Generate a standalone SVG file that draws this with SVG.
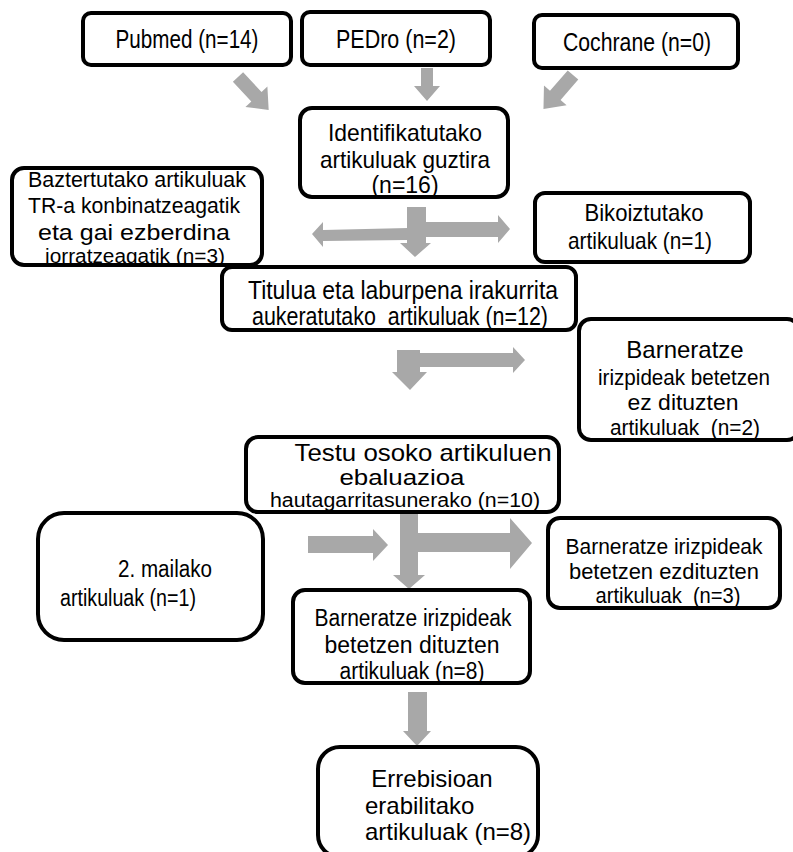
<svg xmlns="http://www.w3.org/2000/svg" width="793" height="852" viewBox="0 0 793 852">
<style>
.box{fill:#fff;stroke:#000;stroke-width:4}
.n{font-family:"Liberation Sans",Arial,sans-serif;font-size:23px;fill:#000;text-anchor:middle}
.r{font-family:"Liberation Sans",Arial,sans-serif;font-size:23px;fill:#000;text-anchor:middle}
.s{text-anchor:start}
.arr{fill:#a8a8a8}
</style>
<rect width="793" height="852" fill="#fff"/>
<g id="connectors">
<polygon class="arr" transform="translate(238,77) rotate(47)" points="0,-7 27,-7 27,-15 45,0 27,15 27,7 0,7"/>
<polygon class="arr" points="421,68 433,68 433,86 440,86 427,101 414,86 421,86"/>
<polygon class="arr" transform="translate(573,75) rotate(131)" points="0,-7 27,-7 27,-15 45,0 27,15 27,7 0,7"/>
<polygon class="arr" points="408,228 323,230 323,222 312,234 323,247 323,241 408,240"/>
<polygon class="arr" points="418,222 498,222 498,215 510,229 498,243 498,237 418,237"/>
<polygon class="arr" points="407,207 426,207 426,243 431,243 415,257 400,243 407,243"/>
<polygon class="arr" points="397,350 420,350 420,372 427,372 410,390 392,372 397,372"/>
<polygon class="arr" points="418,353 513,353 513,347 525,360 513,373 513,367 418,367"/>
<polygon class="arr" points="308,536 373,536 373,529 388,545 373,561 373,553 308,553"/>
<polygon class="arr" points="400,512 418,512 418,575 425,575 409,589 393,575 400,575"/>
<polygon class="arr" points="418,533 510,533 510,518 532,543 510,569 510,552 418,552"/>
<polygon class="arr" points="408,692 427,692 427,731 431,731 417,746 403,731 408,731"/>
</g>
<g id="pubmed">
<rect class="box" x="83" y="13" width="208" height="52" rx="8"/>
<text class="n" x="187" y="48" style="font-size:25px" textLength="143" lengthAdjust="spacingAndGlyphs">Pubmed (n=14)</text>
</g>
<g id="pedro">
<rect class="box" x="302" y="12" width="188" height="53" rx="8"/>
<text class="n" x="396" y="48" style="font-size:25px" textLength="120" lengthAdjust="spacingAndGlyphs">PEDro (n=2)</text>
</g>
<g id="cochrane">
<rect class="box" x="534" y="15" width="204" height="53" rx="8"/>
<text class="n" x="637" y="51" style="font-size:25px" textLength="148" lengthAdjust="spacingAndGlyphs">Cochrane (n=0)</text>
</g>
<g id="identifikatutako">
<rect class="box" x="300" y="108" width="208" height="89" rx="12"/>
<text class="n" x="405" y="141" style="font-size:24px" textLength="154" lengthAdjust="spacingAndGlyphs">Identifikatutako</text>
<text class="n" x="405" y="168" style="font-size:24px" textLength="170" lengthAdjust="spacingAndGlyphs">artikuluak guztira</text>
<text class="r" x="405" y="193" style="font-size:23px">(n=16)</text>
</g>
<g id="baztertutako">
<rect class="box" x="12" y="168" width="250" height="97" rx="12"/>
<text class="n" x="137" y="187" style="font-size:22px" textLength="218" lengthAdjust="spacingAndGlyphs">Baztertutako artikuluak</text>
<text class="n" x="134" y="213" style="font-size:22px" textLength="212" lengthAdjust="spacingAndGlyphs">TR-a konbinatzeagatik</text>
<text class="r" x="134" y="240" style="font-size:22px" textLength="192" lengthAdjust="spacingAndGlyphs">eta gai ezberdina</text>
<text class="n" x="135" y="263" style="font-size:20px" textLength="180" lengthAdjust="spacingAndGlyphs">jorratzeagatik (n=3)</text>
</g>
<g id="bikoiztutako">
<rect class="box" x="535" y="193" width="215" height="69" rx="10"/>
<text class="n" x="644" y="221" style="font-size:24px" textLength="119" lengthAdjust="spacingAndGlyphs">Bikoiztutako</text>
<text class="n" x="640" y="249" style="font-size:24px" textLength="144" lengthAdjust="spacingAndGlyphs">artikuluak (n=1)</text>
</g>
<g id="titulua">
<rect class="box" x="222" y="267" width="354" height="63" rx="10"/>
<text class="n" x="403" y="299" style="font-size:25px" textLength="310" lengthAdjust="spacingAndGlyphs">Titulua eta laburpena irakurrita</text>
<text class="n" x="400" y="325" style="font-size:25px" textLength="296" lengthAdjust="spacingAndGlyphs" xml:space="preserve">aukeratutako  artikuluak (n=12)</text>
</g>
<g id="barneratze2">
<rect class="box" x="579" y="319" width="220" height="121" rx="12"/>
<text class="r" x="685" y="358" style="font-size:24px">Barneratze</text>
<text class="n" x="684" y="385" style="font-size:22px" textLength="172" lengthAdjust="spacingAndGlyphs">irizpideak betetzen</text>
<text class="n" x="683" y="410" style="font-size:22px" textLength="111" lengthAdjust="spacingAndGlyphs">ez dituzten</text>
<text class="n" x="685" y="435" style="font-size:22px" textLength="150" lengthAdjust="spacingAndGlyphs" xml:space="preserve">artikuluak  (n=2)</text>
</g>
<g id="testu">
<rect class="box" x="246" y="437" width="313" height="75" rx="12"/>
<text class="n" x="423" y="461" style="font-size:24px" textLength="257" lengthAdjust="spacingAndGlyphs">Testu osoko artikuluen</text>
<text class="n" x="402" y="485" style="font-size:22px" textLength="125" lengthAdjust="spacingAndGlyphs">ebaluazioa</text>
<text class="n" x="405" y="507" style="font-size:20px" textLength="270" lengthAdjust="spacingAndGlyphs">hautagarritasunerako (n=10)</text>
</g>
<g id="mailako">
<rect class="box" x="38" y="513" width="225" height="127" rx="26"/>
<text class="n" x="165" y="577" textLength="94" lengthAdjust="spacingAndGlyphs">2. mailako</text>
<text class="n s" x="60" y="606" textLength="136" lengthAdjust="spacingAndGlyphs">artikuluak (n=1)</text>
</g>
<g id="barneratze3">
<rect class="box" x="548" y="518" width="232" height="90" rx="12"/>
<text class="n" x="664" y="554" style="font-size:22px" textLength="197" lengthAdjust="spacingAndGlyphs">Barneratze irizpideak</text>
<text class="n" x="664" y="579" style="font-size:22px" textLength="190" lengthAdjust="spacingAndGlyphs">betetzen ezdituzten</text>
<text class="n" x="668" y="603" style="font-size:22px" textLength="145" lengthAdjust="spacingAndGlyphs" xml:space="preserve">artikuluak  (n=3)</text>
</g>
<g id="barneratze8">
<rect class="box" x="293" y="590" width="237" height="93" rx="12"/>
<text class="n" x="413" y="626" style="font-size:23px" textLength="197" lengthAdjust="spacingAndGlyphs">Barneratze irizpideak</text>
<text class="n" x="412" y="653" style="font-size:23px" textLength="175" lengthAdjust="spacingAndGlyphs">betetzen dituzten</text>
<text class="n" x="412" y="679" style="font-size:23px" textLength="145" lengthAdjust="spacingAndGlyphs">artikuluak (n=8)</text>
</g>
<g id="errebisioan">
<rect class="box" x="318" y="747" width="220" height="110" rx="22"/>
<text class="r" x="432" y="787" style="font-size:24px">Errebisioan</text>
<text class="r s" x="365" y="814" style="font-size:24px">erabilitako</text>
<text class="r s" x="365" y="840" style="font-size:24px">artikuluak (n=8)</text>
</g>
</svg>
